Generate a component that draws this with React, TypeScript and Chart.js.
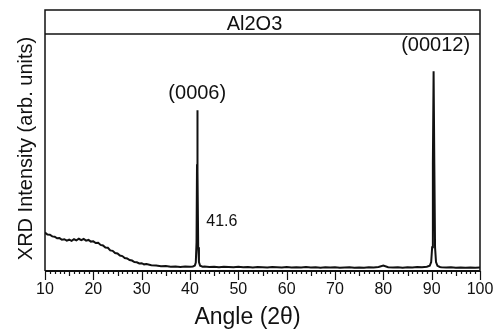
import React, { useEffect, useRef } from "react";
import { Chart, registerables } from "chart.js";

Chart.register(...registerables);

// 2θ angles (degrees)
const angles = [
  10, 10.5, 11, 11.5, 12, 12.5, 13, 13.5, 14, 14.5, 15, 15.5, 16, 16.5, 17, 17.5, 18, 18.5, 19, 19.5,
  20, 20.5, 21, 21.5, 22, 22.5, 23, 23.5, 24, 24.5, 25, 25.5, 26, 26.5, 27, 27.5, 28, 28.5, 29, 29.5,
  30, 30.5, 31, 32, 33, 34, 35, 36, 37, 38, 39, 40, 40.6, 41.0, 41.2, 41.35, 41.45, 41.5, 41.6, 41.7,
  41.85, 42.1, 42.6, 43, 44, 45, 46, 47, 48, 49, 50, 51, 52, 53, 54, 55, 56, 57, 58, 59,
  60, 61, 62, 63, 64, 65, 66, 67, 68, 69, 70, 71, 72, 73, 74, 75, 76, 77, 78, 79,
  80, 81, 82, 83, 84, 85, 86, 87, 88, 89, 89.6, 89.9, 90.1, 90.25, 90.4, 90.55, 90.7, 90.9, 91.2, 91.7,
  92, 93, 94, 95, 96, 97, 98, 99, 100,
];

// XRD intensity (arb. units, 0-100 scale)
const intensity = [
  16.2, 15.4, 15.3, 14.6, 14.5, 13.8, 13.9, 13.2, 13.4, 12.8, 13.2, 12.7, 13.4, 12.9, 13.6, 13.0, 13.5, 12.8, 13.1, 12.4,
  12.5, 11.8, 11.9, 11.0, 10.8, 9.9, 9.8, 8.7, 8.5, 7.6, 7.4, 6.5, 6.3, 5.5, 5.3, 4.6, 4.4, 3.8, 3.7, 3.2,
  3.3, 2.8, 2.9, 2.4, 2.3, 2.0, 2.1, 1.8, 1.9, 1.7, 1.9, 1.8, 1.9, 2.3, 3.6, 12, 45, 67.8, 42, 10,
  3.8, 2.2, 1.8, 1.9, 1.7, 1.8, 1.6, 1.8, 1.7, 1.6, 1.8, 1.6, 1.7, 1.5, 1.7, 1.6, 1.5, 1.7, 1.6, 1.5,
  1.7, 1.5, 1.6, 1.5, 1.7, 1.5, 1.6, 1.4, 1.6, 1.5, 1.6, 1.4, 1.5, 1.6, 1.4, 1.5, 1.4, 1.6, 1.5, 1.7,
  2.3, 1.6, 1.5, 1.6, 1.4, 1.6, 1.5, 1.7, 1.6, 1.8, 2.2, 3.8, 10, 45, 84.3, 45, 10, 3.8, 2.2, 1.7,
  1.6, 1.5, 1.6, 1.4, 1.5, 1.4, 1.5, 1.4, 1.5,
];

const xTickValues = [10, 20, 30, 40, 50, 60, 70, 80, 90, 100];
const xMin = 10;
const xMax = 100;

const titleText = "Al2O3";
const xTitleText = "Angle (2θ)";
const yTitleText = "XRD Intensity (arb. units)";

// peak annotations: [angle, intensity, label]
const peakAngles = [41.5, 90.4];
const peakHeights = [67.8, 84.3];
const peakLabels = ["(0006)", "(00012)"];
const positionNote = "41.6";
const positionNoteLevel = 21;

const FONT = '"Liberation Sans", Arial, sans-serif';
const INK = "#111";

const framePlugin = {
  id: "frameAndText",
  afterDraw(chart: any) {
    const { ctx, chartArea: a, scales } = chart;
    const xs = scales.x;
    const ys = scales.y;
    const headerTop = 10;
    ctx.save();
    ctx.strokeStyle = INK;
    ctx.fillStyle = INK;

    // frame with header strip
    ctx.lineWidth = 1.5;
    ctx.beginPath();
    ctx.moveTo(a.left, a.bottom);
    ctx.lineTo(a.left, headerTop);
    ctx.lineTo(a.right, headerTop);
    ctx.lineTo(a.right, a.bottom);
    ctx.stroke();
    ctx.beginPath();
    ctx.moveTo(a.left, a.top);
    ctx.lineTo(a.right, a.top);
    ctx.stroke();
    ctx.lineWidth = 2;
    ctx.beginPath();
    ctx.moveTo(a.left, a.bottom);
    ctx.lineTo(a.right, a.bottom);
    ctx.stroke();

    // tick marks (outward)
    ctx.lineWidth = 1.2;
    for (let v = xMin; v <= xMax; v += 1) {
      const px = Math.round(xs.getPixelForValue(v)) + 0.5;
      const len = v % 10 === 0 ? 9 : v % 5 === 0 ? 5 : 3;
      ctx.beginPath();
      ctx.moveTo(px, a.bottom);
      ctx.lineTo(px, a.bottom + len);
      ctx.stroke();
    }

    // header title
    ctx.font = `20px ${FONT}`;
    ctx.textAlign = "center";
    ctx.textBaseline = "middle";
    ctx.fillText(titleText, (a.left + a.right) / 2 - 8, (headerTop + a.top) / 2 + 2);

    // x title
    ctx.font = `23px ${FONT}`;
    ctx.fillText(xTitleText, (a.left + a.right) / 2 - 15, 318);

    // y title
    ctx.save();
    ctx.translate(26, (a.top + a.bottom) / 2 - 4);
    ctx.rotate(-Math.PI / 2);
    ctx.font = `20px ${FONT}`;
    ctx.fillText(yTitleText, 0, 0);
    ctx.restore();

    // peak labels
    ctx.font = `20px ${FONT}`;
    const offsets = [17, 26];
    peakLabels.forEach((lbl, i) => {
      const px = xs.getPixelForValue(peakAngles[i]) + (i === 0 ? 0 : 2);
      const py = ys.getPixelForValue(peakHeights[i]) - offsets[i];
      ctx.fillText(lbl, px, py);
    });

    ctx.font = `16px ${FONT}`;
    ctx.textAlign = "left";
    ctx.fillText(positionNote, xs.getPixelForValue(peakAngles[0]) + 9, ys.getPixelForValue(positionNoteLevel));

    ctx.restore();
  },
};

export default function App() {
  const ref = useRef<HTMLCanvasElement | null>(null);

  useEffect(() => {
    if (!ref.current) return;
    const points = angles.map((a, i) => ({ x: a, y: intensity[i] }));
    const chart = new Chart(ref.current, {
      type: "line",
      data: {
        datasets: [
          {
            data: points,
            borderColor: INK,
            borderWidth: 2,
            pointRadius: 0,
            tension: 0,
            fill: false,
          },
        ],
      },
      options: {
        animation: false,
        responsive: false,
        devicePixelRatio: 1,
        parsing: false as any,
        layout: { padding: { left: 45, right: 13, top: 34, bottom: 0 } },
        plugins: {
          legend: { display: false },
          tooltip: { enabled: false },
          title: { display: false },
        },
        scales: {
          x: {
            type: "linear",
            min: xMin,
            max: xMax,
            position: "bottom",
            grid: { display: false, drawTicks: false },
            border: { display: false },
            afterBuildTicks: (s: any) => {
              s.ticks = xTickValues.map((v) => ({ value: v }));
            },
            afterFit: (s: any) => {
              s.height = 61;
              s.paddingLeft = 0;
              s.paddingRight = 0;
            },
            ticks: {
              padding: 9,
              color: INK,
              autoSkip: false,
              maxRotation: 0,
              minRotation: 0,
              font: { size: 16, family: FONT },
              callback: (v: any) => String(v),
            },
          },
          y: {
            display: false,
            min: 0,
            max: 100,
          },
        },
      },
      plugins: [framePlugin],
    });
    return () => chart.destroy();
  }, []);

  return (
    <div style={{ position: "fixed", left: 0, top: 0, width: 493, height: 332, background: "#fff" }}>
      <canvas ref={ref} width={493} height={332} style={{ width: 493, height: 332 }} />
    </div>
  );
}
